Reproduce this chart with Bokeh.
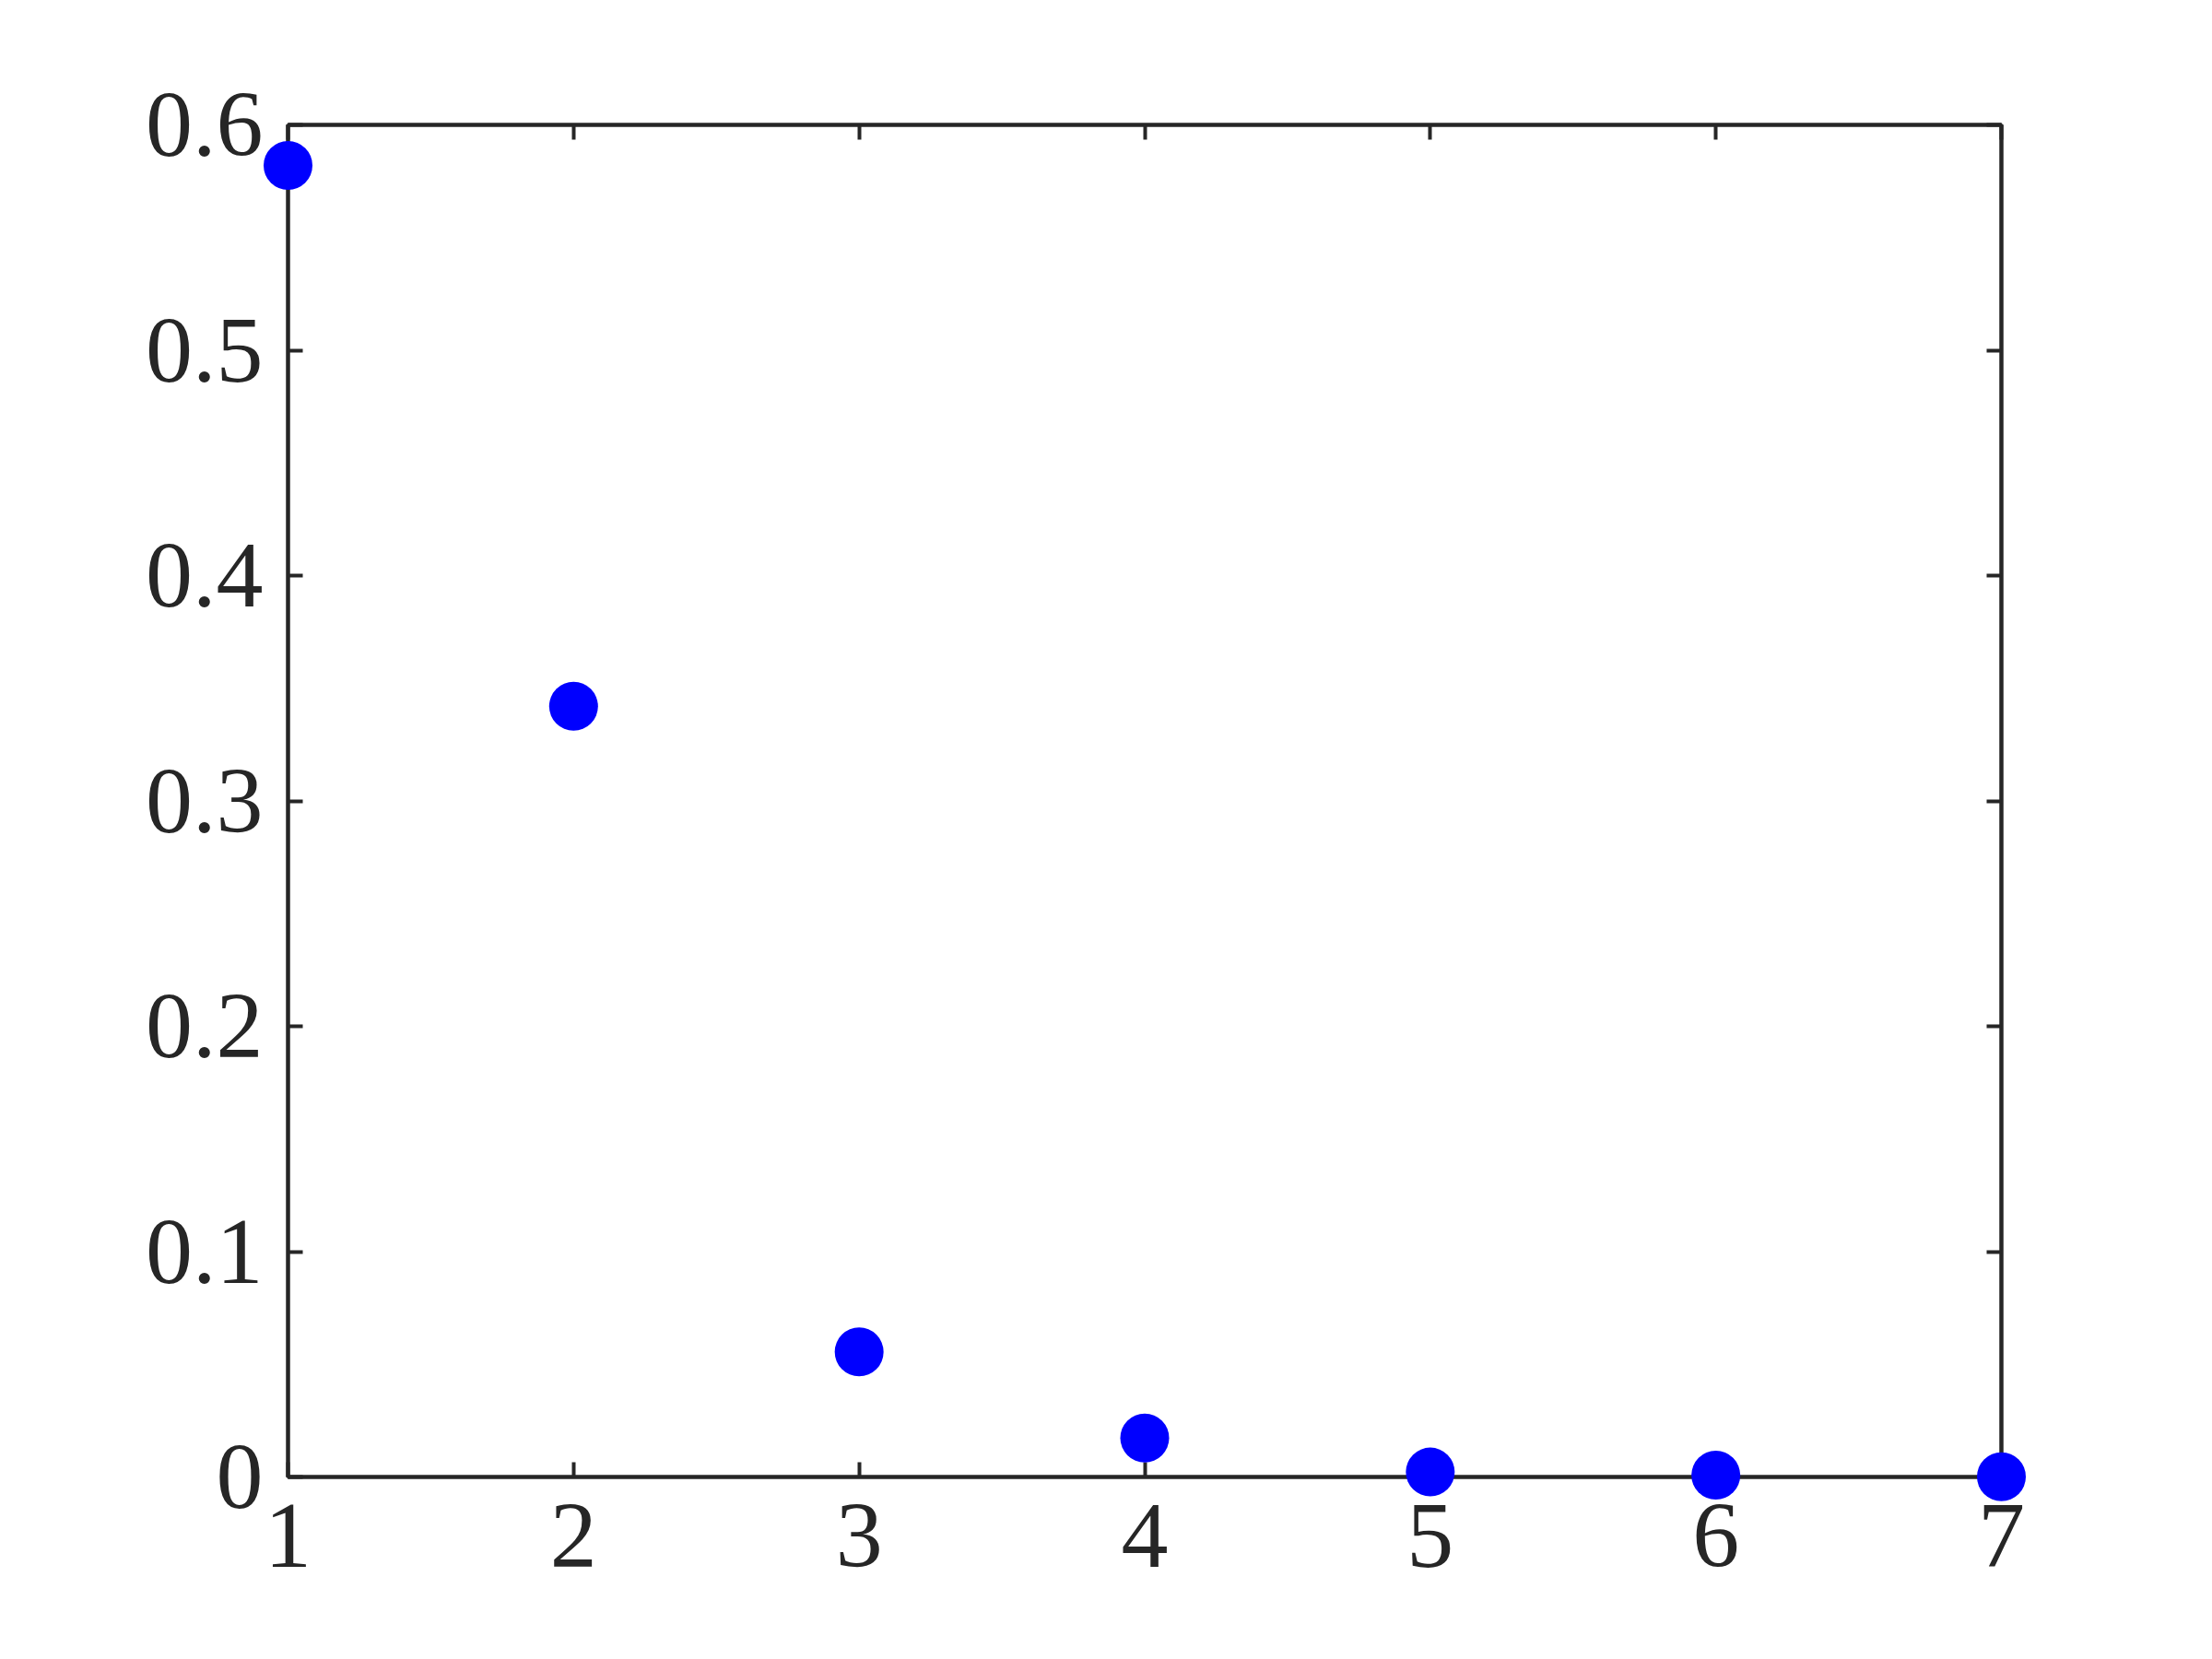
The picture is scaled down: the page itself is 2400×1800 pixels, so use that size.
from bokeh.plotting import figure
from bokeh.models import Range1d, LinearAxis, FixedTicker, CustomJSTickFormatter
from bokeh.embed import file_html
from bokeh.resources import INLINE

x_vals = [1, 2, 3, 4, 5, 6, 7]
y_vals = [0.582, 0.342, 0.0555, 0.0173, 0.0022, 0.0008, 0.0001]
x_ticks = [1, 2, 3, 4, 5, 6, 7]
y_ticks = [0, 0.1, 0.2, 0.3, 0.4, 0.5, 0.6]
y_tick_labels = {0: "0", 0.1: "0.1", 0.2: "0.2", 0.3: "0.3", 0.4: "0.4", 0.5: "0.5", 0.6: "0.6"}

AX = "#262626"
FONT = "Liberation Serif"
FS = "102px"

p = figure(frame_width=1859, frame_height=1467,
           x_range=Range1d(1, 7), y_range=Range1d(0, 0.6),
           output_backend="svg", toolbar_location=None,
           min_border_left=312, min_border_top=135,
           min_border_right=213, min_border_bottom=182,
           background_fill_color="white", border_fill_color="white")
p.grid.visible = False
p.outline_line_color = AX
p.outline_line_width = 4

def style(ax, ticks, labels=True):
    ax.ticker = FixedTicker(ticks=ticks)
    ax.axis_line_color = AX
    ax.axis_line_width = 4
    ax.major_tick_line_color = AX
    ax.major_tick_line_width = 4
    ax.major_tick_in = 16
    ax.major_tick_out = 0
    ax.minor_tick_line_color = None
    ax.major_label_text_font = FONT
    ax.major_label_text_font_size = FS
    ax.major_label_text_color = AX
    if not labels:
        ax.formatter = CustomJSTickFormatter(code="return ''")

style(p.xaxis[0], x_ticks)
p.xaxis[0].major_label_standoff = 30
style(p.yaxis[0], y_ticks)
p.yaxis[0].major_label_standoff = 27
p.yaxis[0].major_label_overrides = y_tick_labels

top = LinearAxis()
style(top, x_ticks, labels=False)
p.add_layout(top, "above")
right = LinearAxis()
style(right, y_ticks, labels=False)
p.add_layout(right, "right")

p.scatter(x_vals, y_vals, size=53, fill_color="#0000FF", line_color=None, level="overlay")

open("out.html", "w").write(file_html(p, INLINE))
